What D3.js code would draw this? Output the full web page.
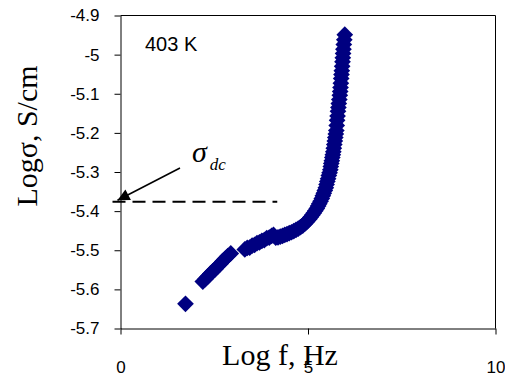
<!DOCTYPE html>
<html>
<head>
<meta charset="utf-8">
<script src="https://cdn.jsdelivr.net/npm/d3@7"></script>
<style>
  body { margin: 0; background: #fff; }
  svg { display: block; }
</style>
</head>
<body>
<div id="chart"></div>
<script>
// values (Log f in Hz, Log sigma in S/cm)
var log_f_values = [
  1.733,
  2.195, 2.260, 2.330, 2.395, 2.460, 2.530, 2.595, 2.660, 2.725, 2.790, 2.860, 2.941,
  3.315, 3.380, 3.445, 3.510, 3.575, 3.640, 3.705, 3.770, 3.835, 3.900, 3.965, 4.030, 4.080,
  4.140, 4.200,
  4.260, 4.320, 4.380, 4.440, 4.500, 4.560, 4.620, 4.680, 4.740, 4.800, 4.860, 4.915,
  4.960, 4.995, 5.035, 5.075, 5.115, 5.155, 5.195, 5.235, 5.270, 5.301,
  5.335, 5.368, 5.395, 5.421, 5.448, 5.475, 5.495, 5.515, 5.535, 5.555,
  5.575, 5.595, 5.608, 5.621, 5.635, 5.648, 5.662, 5.675, 5.688, 5.701,
  5.715, 5.728, 5.742, 5.755, 5.766, 5.776, 5.788, 5.800, 5.811, 5.821,
  5.835, 5.848, 5.858, 5.867, 5.876, 5.885, 5.893, 5.901, 5.911, 5.920,
  5.928, 5.936, 5.945, 5.955, 5.968, 5.981
];
var log_sigma_values = [
  -5.637,
  -5.580, -5.574, -5.567, -5.560, -5.554, -5.548, -5.541, -5.535, -5.528, -5.522, -5.515, -5.508,
  -5.498, -5.494, -5.493, -5.488, -5.486, -5.482, -5.480, -5.476, -5.474, -5.469, -5.468, -5.463, -5.461,
  -5.468, -5.467,
  -5.465, -5.463, -5.461, -5.459, -5.456, -5.454, -5.451, -5.448, -5.445, -5.441, -5.437, -5.432,
  -5.428, -5.424, -5.420, -5.415, -5.410, -5.405, -5.399, -5.393, -5.387, -5.381,
  -5.375, -5.368, -5.361, -5.354, -5.347, -5.340, -5.332, -5.324, -5.317, -5.309,
  -5.302, -5.294, -5.286, -5.278, -5.271, -5.263, -5.256, -5.248, -5.239, -5.230,
  -5.221, -5.212, -5.203, -5.194, -5.181, -5.168, -5.157, -5.145, -5.135, -5.125,
  -5.115, -5.104, -5.094, -5.084, -5.073, -5.061, -5.051, -5.041, -5.030, -5.018,
  -5.008, -4.997, -4.986, -4.974, -4.962, -4.949
];
var x_tick_values = [0, 5, 10];
var x_tick_labels = ["0", "5", "10"];
var y_tick_values = [-4.9, -5.0, -5.1, -5.2, -5.3, -5.4, -5.5, -5.6, -5.7];
var y_tick_labels = ["-4.9", "-5", "-5.1", "-5.2", "-5.3", "-5.4", "-5.5", "-5.6", "-5.7"];
var sigma_dc_value = -5.376;
var sigma_dc_end_f = 4.18;
var temperature_label = "403 K";

var width_chart  = 505;
var height_chart = 374;
var left_plot    = 120.5;
var right_plot   = 495.5;
var top_plot     = 15.5;
var bottom_plot  = 328.5;
var marker_color = "#000080";
var sans_font    = "'Liberation Sans', Arial, sans-serif";
var serif_font   = "'Liberation Serif', 'Times New Roman', serif";

var x_chart = d3.scaleLinear().domain([0, 10]).range([left_plot, right_plot]);
var y_chart = d3.scaleLinear().domain([-5.7, -4.9]).range([bottom_plot, top_plot]);

var svg_chart = d3.select("#chart").append("svg")
  .attr("width", width_chart)
  .attr("height", height_chart);

// frame on top and right
svg_chart.append("path")
  .attr("d", "M" + left_plot + "," + top_plot + "H" + right_plot + "V" + bottom_plot)
  .attr("fill", "none")
  .attr("stroke", "#000")
  .attr("stroke-width", 1);

var axis_y = svg_chart.append("g")
  .attr("transform", "translate(" + left_plot + ",0)")
  .call(d3.axisLeft(y_chart)
    .tickValues(y_tick_values)
    .tickFormat(function (d, i) { return y_tick_labels[i]; })
    .tickSize(6)
    .tickSizeOuter(0)
    .tickPadding(15));

var axis_x = svg_chart.append("g")
  .attr("transform", "translate(0," + bottom_plot + ")")
  .call(d3.axisBottom(x_chart)
    .tickValues(x_tick_values)
    .tickFormat(function (d, i) { return x_tick_labels[i]; })
    .tickSize(6)
    .tickSizeOuter(0)
    .tickPadding(26.5));

[axis_x, axis_y].forEach(function (a) {
  a.selectAll("text")
    .attr("font-family", sans_font)
    .attr("font-size", 17)
    .attr("fill", "#000");
  a.selectAll("line, path").attr("stroke", "#000");
});

// the data
var diamond = d3.symbol().type(d3.symbolSquare).size(140);
svg_chart.append("g")
  .selectAll("path")
  .data(log_f_values.map(function (f, i) { return [f, log_sigma_values[i]]; }))
  .join("path")
  .attr("d", diamond)
  .attr("transform", function (d) {
    return "translate(" + x_chart(d[0]) + "," + y_chart(d[1]) + ") rotate(45)";
  })
  .attr("fill", marker_color);

// dc level
svg_chart.append("line")
  .attr("x1", left_plot - 8)
  .attr("x2", x_chart(sigma_dc_end_f))
  .attr("y1", y_chart(sigma_dc_value))
  .attr("y2", y_chart(sigma_dc_value))
  .attr("stroke", "#000")
  .attr("stroke-width", 2)
  .attr("stroke-dasharray", "13,7");

svg_chart.append("defs").append("marker")
  .attr("id", "arrow_head")
  .attr("viewBox", "0 0 10 10")
  .attr("refX", 10).attr("refY", 5)
  .attr("markerWidth", 17).attr("markerHeight", 12)
  .attr("markerUnits", "userSpaceOnUse")
  .attr("orient", "auto")
  .append("path")
  .attr("d", "M0,0L10,5L0,10Z")
  .attr("fill", "#000");

svg_chart.append("line")
  .attr("x1", 180).attr("y1", 168)
  .attr("x2", left_plot - 3).attr("y2", y_chart(sigma_dc_value) - 1.5)
  .attr("stroke", "#000")
  .attr("stroke-width", 1.5)
  .attr("marker-end", "url(#arrow_head)");

var sigma_label = svg_chart.append("text")
  .attr("x", 192)
  .attr("y", 162)
  .attr("font-family", serif_font)
  .attr("font-style", "italic")
  .attr("font-size", 30);
sigma_label.append("tspan").text("σ");
sigma_label.append("tspan")
  .attr("dx", 3).attr("dy", 8)
  .attr("font-size", 17)
  .text("dc");

svg_chart.append("text")
  .attr("x", 145)
  .attr("y", 51)
  .attr("font-family", sans_font)
  .attr("font-size", 20)
  .text(temperature_label);

// axis titles
svg_chart.append("text")
  .attr("x", 280)
  .attr("y", 365)
  .attr("text-anchor", "middle")
  .attr("font-family", serif_font)
  .attr("font-size", 30)
  .text("Log f, Hz");

svg_chart.append("text")
  .attr("transform", "translate(37,136) rotate(-90)")
  .attr("text-anchor", "middle")
  .attr("font-family", serif_font)
  .attr("font-size", 30)
  .text("Logσ, S/cm");
</script>
</body>
</html>
